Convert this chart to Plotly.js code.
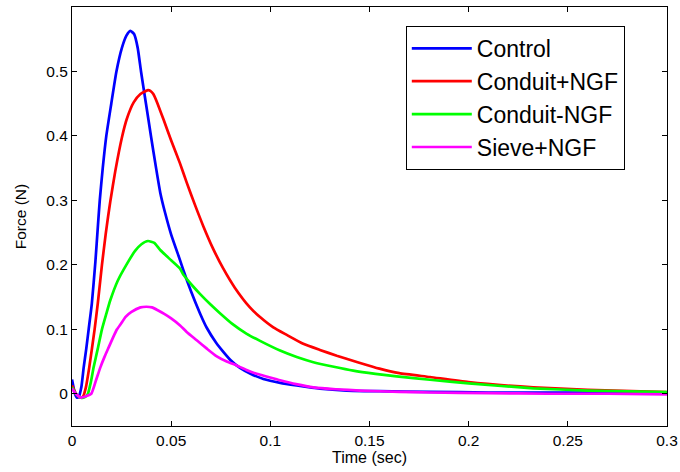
<!DOCTYPE html>
<html>
<head>
<meta charset="utf-8">
<script src="https://cdn.plot.ly/plotly-3.0.1.min.js"></script>
<style>html,body{margin:0;padding:0;background:#fff;}#chart{width:680px;height:472px;}</style>
</head>
<body>
<div id="chart"></div>
<script>
// ---- data ----
var seriesNames = ["Control", "Conduit+NGF", "Conduit-NGF", "Sieve+NGF"];
var seriesColors = ["#0000ff", "#ff0000", "#00ff00", "#ff00ff"];

var controlT = [0, 0.0015, 0.0025, 0.0035, 0.0047, 0.0059, 0.0072, 0.0084, 0.0100, 0.0118, 0.0131, 0.0140, 0.0155, 0.0173, 0.0198, 0.0224, 0.0252, 0.0275, 0.0294, 0.0313, 0.0331, 0.0348, 0.0373, 0.0398, 0.0424, 0.0445, 0.047, 0.050, 0.0545, 0.0561, 0.060, 0.0645, 0.068, 0.0725, 0.0763, 0.080, 0.0847, 0.090, 0.0965, 0.105, 0.1133, 0.125, 0.1385, 0.155, 0.18, 0.21, 0.24, 0.27, 0.3];
var controlF = [0.022, 0.0, -0.006, -0.004, 0.010, 0.041, 0.070, 0.100, 0.140, 0.205, 0.262, 0.300, 0.350, 0.400, 0.450, 0.500, 0.537, 0.556, 0.563, 0.558, 0.537, 0.500, 0.450, 0.400, 0.350, 0.312, 0.280, 0.247, 0.207, 0.192, 0.159, 0.125, 0.102, 0.080, 0.065, 0.052, 0.040, 0.031, 0.023, 0.017, 0.013, 0.008, 0.005, 0.004, 0.003, 0.002, 0.002, 0.002, 0.002];

var condNgfT = [0, 0.002, 0.0042, 0.0056, 0.007, 0.0087, 0.0114, 0.0130, 0.0151, 0.0170, 0.0182, 0.0193, 0.0218, 0.0252, 0.0277, 0.0311, 0.0345, 0.0383, 0.0395, 0.0410, 0.0429, 0.0462, 0.050, 0.0545, 0.0578, 0.0620, 0.0662, 0.0710, 0.0763, 0.0820, 0.0897, 0.0948, 0.1015, 0.1085, 0.1166, 0.1250, 0.1335, 0.1440, 0.155, 0.165, 0.1805, 0.20, 0.2326, 0.26, 0.3];
var condNgfF = [0.013, 0.0, -0.006, -0.004, 0.010, 0.041, 0.100, 0.140, 0.200, 0.248, 0.275, 0.298, 0.345, 0.398, 0.427, 0.452, 0.465, 0.471, 0.470, 0.465, 0.452, 0.425, 0.393, 0.357, 0.328, 0.293, 0.260, 0.226, 0.194, 0.165, 0.134, 0.119, 0.103, 0.091, 0.0775, 0.068, 0.059, 0.049, 0.039, 0.032, 0.026, 0.018, 0.010, 0.006, 0.0025];

var condNoT = [0, 0.002, 0.0045, 0.0065, 0.008, 0.0095, 0.0109, 0.0130, 0.0151, 0.0172, 0.0193, 0.0230, 0.0274, 0.0319, 0.0350, 0.0383, 0.0415, 0.0445, 0.050, 0.0545, 0.0561, 0.0612, 0.0645, 0.0700, 0.0746, 0.0810, 0.0881, 0.0948, 0.1049, 0.1133, 0.1217, 0.1320, 0.1418, 0.1530, 0.1637, 0.1805, 0.20, 0.2326, 0.26, 0.3];
var condNoF = [0.010, 0.0, -0.006, -0.005, 0.0, 0.018, 0.041, 0.070, 0.100, 0.123, 0.145, 0.175, 0.200, 0.222, 0.232, 0.237, 0.234, 0.223, 0.207, 0.194, 0.185, 0.166, 0.155, 0.138, 0.125, 0.108, 0.093, 0.082, 0.067, 0.057, 0.049, 0.042, 0.036, 0.031, 0.027, 0.0217, 0.016, 0.0085, 0.005, 0.0025];

var sieveT = [0, 0.002, 0.0045, 0.007, 0.0097, 0.012, 0.0143, 0.0165, 0.0185, 0.0205, 0.0227, 0.0250, 0.0269, 0.0300, 0.0345, 0.0375, 0.0403, 0.0430, 0.0465, 0.050, 0.0545, 0.0578, 0.0629, 0.0680, 0.0730, 0.0780, 0.0830, 0.0880, 0.0931, 0.0990, 0.1049, 0.1130, 0.1217, 0.1330, 0.1452, 0.1650, 0.1805, 0.21, 0.24, 0.27, 0.3];
var sieveF = [0.008, 0.0, -0.006, -0.004, 0.0, 0.020, 0.041, 0.058, 0.072, 0.086, 0.100, 0.110, 0.119, 0.127, 0.134, 0.135, 0.134, 0.130, 0.124, 0.117, 0.106, 0.096, 0.083, 0.070, 0.058, 0.050, 0.044, 0.037, 0.031, 0.026, 0.021, 0.015, 0.010, 0.007, 0.005, 0.003, 0.002, 0.001, 0.0, 0.0, -0.001];

var xTickVals = [0, 0.05, 0.1, 0.15, 0.2, 0.25, 0.3];
var yTickVals = [0, 0.1, 0.2, 0.3, 0.4, 0.5];

var xs = [controlT, condNgfT, condNoT, sieveT];
var ys = [controlF, condNgfF, condNoF, sieveF];

var traces = seriesNames.map(function (n, i) {
  return {
    x: xs[i], y: ys[i], name: n, type: "scatter", mode: "lines",
    line: {color: seriesColors[i], width: 2.7, shape: "spline", smoothing: 0.5}
  };
});

var font = "Liberation Sans, Arial, sans-serif";
var layout = {
  width: 680, height: 472,
  margin: {l: 72, r: 13, t: 7, b: 46},
  paper_bgcolor: "#fff", plot_bgcolor: "#fff",
  showlegend: true,
  font: {family: font, color: "#000"},
  xaxis: {
    range: [0, 0.3], tickvals: xTickVals, ticks: "inside", ticklen: 5, tickcolor: "#000",
    showline: true, linecolor: "#000", linewidth: 1, mirror: "ticks", showgrid: false, zeroline: false,
    tickfont: {size: 15.5, family: font, color: "#000"},
    title: {text: "Time (sec)", font: {size: 16, family: font, color: "#000"}, standoff: 4}
  },
  yaxis: {
    range: [-0.05, 0.6], tickvals: yTickVals, ticks: "inside", ticklen: 5, tickcolor: "#000",
    showline: true, linecolor: "#000", linewidth: 1, mirror: "ticks", showgrid: false, zeroline: false,
    tickfont: {size: 15.5, family: font, color: "#000"},
    title: {text: "Force (N)", font: {size: 15.5, family: font, color: "#000"}, standoff: 15}
  },
  legend: {
    x: 0.561, y: 0.955, xanchor: "left", yanchor: "top",
    bgcolor: "#fff", bordercolor: "#000", borderwidth: 1,
    font: {size: 23, family: font, color: "#000"},
    itemwidth: 60, tracegroupgap: 0
  }
};

Plotly.newPlot("chart", traces, layout, {displayModeBar: false, staticPlot: true});
</script>
</body>
</html>
